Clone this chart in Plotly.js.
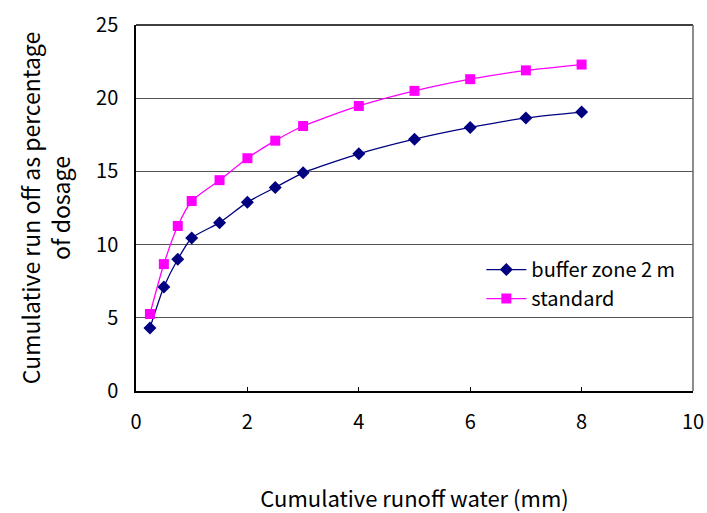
<!DOCTYPE html>
<html><head><meta charset="utf-8">
<script src="https://cdn.plot.ly/plotly-3.0.1.min.js"></script>
<style>html,body{margin:0;padding:0;background:#fff}#chart{width:707px;height:513px}</style>
</head><body><div id="chart"></div>
<script>
const xValues = [0.25, 0.5, 0.75, 1, 1.5, 2, 2.5, 3, 4, 5, 6, 7, 8];
const bufferZone = [4.3, 7.1, 9.0, 10.45, 11.5, 12.9, 13.9, 14.9, 16.2, 17.2, 18.0, 18.65, 19.05];
const standard = [5.26, 8.67, 11.27, 12.98, 14.4, 15.9, 17.1, 18.1, 19.47, 20.5, 21.3, 21.9, 22.3];
const seriesNames = ["buffer zone 2 m", "standard"];
const xTitle = "Cumulative runoff water (mm)";
const yTitle = "Cumulative run off as percentage<br>of dosage";

const FONT = "Noto Sans CJK KR, Liberation Sans, sans-serif";
const traces = [
  {x: xValues, y: bufferZone, name: seriesNames[0], type: "scatter", mode: "lines+markers",
   line: {color: "#000080", width: 1.3, shape: "spline", smoothing: 0.6},
   marker: {symbol: "diamond", size: 10, color: "#000080"}},
  {x: xValues, y: standard, name: seriesNames[1], type: "scatter", mode: "lines+markers",
   line: {color: "#FF00FF", width: 1.3, shape: "spline", smoothing: 0.6},
   marker: {symbol: "square", size: 10, color: "#FF00FF"}}
];
const layout = {
  width: 707, height: 513,
  margin: {l: 136, r: 14, t: 25, b: 122},
  paper_bgcolor: "#fff", plot_bgcolor: "#fff",
  font: {family: FONT, size: 20, color: "#000"},
  showlegend: true,
  legend: {x: 0.62, y: 0.385, xanchor: "left", yanchor: "top", bgcolor: "rgba(0,0,0,0)",
           font: {family: FONT, size: 20}, itemwidth: 40, tracegroupgap: 0},
  xaxis: {range: [0, 10], dtick: 2, tick0: 0, showgrid: false, zeroline: false,
          showline: true, linecolor: "#000", linewidth: 1.5, ticks: "inside", ticklen: 4,
          tickcolor: "#000", mirror: false, ticklabelstandoff: 12,
          tickfont: {family: FONT, size: 20},
          title: {text: xTitle, font: {family: FONT, size: 22}, standoff: 62}},
  yaxis: {range: [0, 25], dtick: 5, tick0: 0, showgrid: true, gridcolor: "#555", gridwidth: 1,
          zeroline: false, showline: true, linecolor: "#000", linewidth: 1.5, ticks: "",
          ticklabelstandoff: 12,
          tickfont: {family: FONT, size: 20},
          title: {text: yTitle, font: {family: FONT, size: 23}, standoff: 19}},
  shapes: [
    {type: "line", xref: "paper", yref: "paper", x0: 0, x1: 1, y0: 1, y1: 1, line: {color: "#000", width: 1.5}},
    {type: "line", xref: "paper", yref: "paper", x0: 1, x1: 1, y0: 0, y1: 1, line: {color: "#666", width: 1.5}}
  ]
};
Plotly.newPlot("chart", traces, layout, {displayModeBar: false});
</script></body></html>
